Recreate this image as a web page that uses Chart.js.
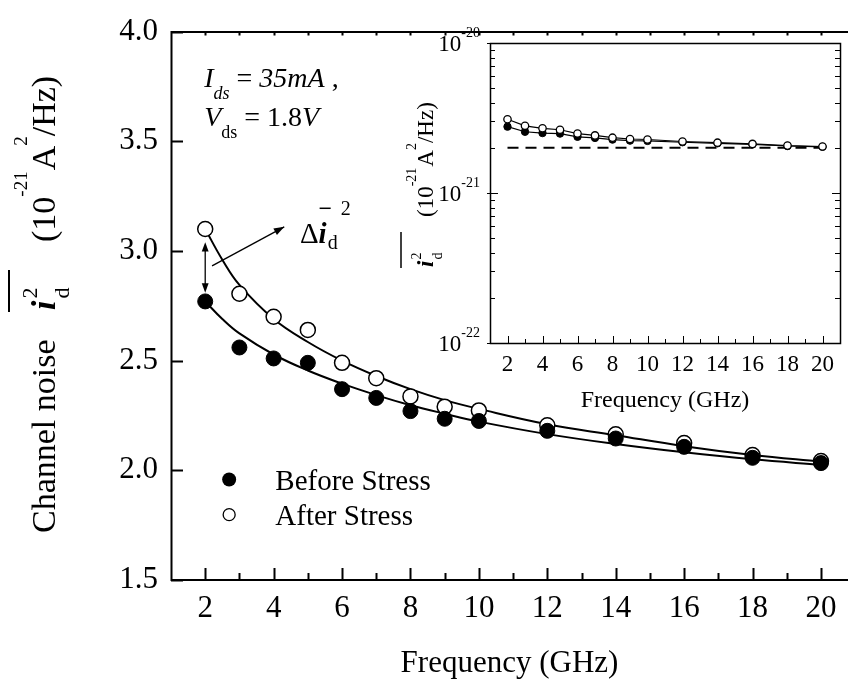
<!DOCTYPE html>
<html>
<head>
<meta charset="utf-8">
<script src="https://cdn.jsdelivr.net/npm/chart.js@4.4.1/dist/chart.umd.min.js"></script>
<style>
    html, body { margin: 0; padding: 0; background: #fff; }
    #wrap { position: relative; width: 857px; height: 686px; }
    #mainChart { position: absolute; left: 0; top: 0; }
    #insetChart { position: absolute; left: 400px; top: 20px; }
</style>
</head>
<body>
<div id="wrap">
    <canvas id="mainChart" width="857" height="686"></canvas>
    <canvas id="insetChart" width="457" height="400"></canvas>
</div>
<script>
// Measured points (10^-21 A^2/Hz)
const freqs = [2, 3, 4, 5, 6, 7, 8, 9, 10, 12, 14, 16, 18, 20];
const beforeStress = [2.77, 2.56, 2.51, 2.49, 2.37, 2.33, 2.27, 2.235, 2.225, 2.18, 2.145, 2.107, 2.057, 2.033];
const afterStress = [3.10, 2.805, 2.70, 2.64, 2.49, 2.42, 2.337, 2.29, 2.273, 2.205, 2.164, 2.124, 2.07, 2.042];

// Fitted curves
const fitFreqs = [2, 2.5, 3, 4, 5, 6, 7, 8, 9, 10, 12, 14, 16, 18, 20];
const beforeFit = [2.77, 2.69, 2.624, 2.528, 2.455, 2.395, 2.343, 2.297, 2.258, 2.222, 2.165, 2.12, 2.082, 2.05, 2.025];
const afterFit = [3.10, 2.96, 2.845, 2.69, 2.585, 2.50, 2.43, 2.37, 2.32, 2.28, 2.21, 2.16, 2.11, 2.07, 2.04];

// Axes
const xTicks = [2, 4, 6, 8, 10, 12, 14, 16, 18, 20];
const yTicks = [1.5, 2.0, 2.5, 3.0, 3.5, 4.0];
const insetExponents = [-22, -21, -20];

// Inset dashed level (10^-21 A^2/Hz)
const floorFreqs = [2, 20.3];
const floorLevel = [2.0, 2.0];

const SERIF = '"Liberation Serif", "Times New Roman", serif';
Chart.defaults.font.family = SERIF;
Chart.defaults.color = '#000';

const pts = (xs, ys, k = 1) => xs.map((x, i) => ({ x: x, y: ys[i] * k }));

// Draws a row of text pieces, returns end x
function rich(ctx, x, y, parts) {
    let cx = x;
    parts.forEach(p => {
        ctx.font = p.font;
        cx += p.gap || 0;
        ctx.fillText(p.t, cx, y + (p.dy || 0));
        if (!p.stack) cx += ctx.measureText(p.t).width;
    });
    return cx;
}

function arrowHead(ctx, x0, y0, x1, y1, size) {
    const a = Math.atan2(y1 - y0, x1 - x0);
    ctx.beginPath();
    ctx.moveTo(x1, y1);
    ctx.lineTo(x1 - size * Math.cos(a - 0.35), y1 - size * Math.sin(a - 0.35));
    ctx.lineTo(x1 - size * Math.cos(a + 0.35), y1 - size * Math.sin(a + 0.35));
    ctx.closePath();
    ctx.fill();
}

const mainDecor = {
    id: 'mainDecor',
    afterDraw(chart) {
        const { ctx, chartArea: ca, scales: { x, y } } = chart;
        ctx.save();
        ctx.strokeStyle = '#000';
        ctx.fillStyle = '#000';
        ctx.lineWidth = 2;

        // frame (right side is cropped off)
        ctx.beginPath();
        ctx.moveTo(ca.right, ca.top + 0.5);
        ctx.lineTo(ca.left + 0.5, ca.top + 0.5);
        ctx.lineTo(ca.left + 0.5, ca.bottom);
        ctx.lineTo(ca.right, ca.bottom);
        ctx.stroke();

        // ticks
        ctx.beginPath();
        for (let f = 2; f <= 20; f++) {
            const px = Math.round(x.getPixelForValue(f)) + 0.5;
            const len = f % 2 === 0 ? 12 : 7;
            ctx.moveTo(px, ca.bottom);
            ctx.lineTo(px, ca.bottom - len);
            ctx.moveTo(px, ca.top);
            ctx.lineTo(px, ca.top + 4);
        }
        yTicks.forEach(v => {
            const py = Math.round(y.getPixelForValue(v)) + 0.5;
            ctx.moveTo(ca.left, py);
            ctx.lineTo(ca.left + 12, py);
        });
        ctx.stroke();

        ctx.textAlign = 'left';
        ctx.textBaseline = 'alphabetic';

        // condition text
        const tx = x.getPixelForValue(1.97);
        const ty1 = y.getPixelForValue(3.746);
        const ty2 = y.getPixelForValue(3.569);
        rich(ctx, tx, ty1, [
            { t: 'I', font: 'italic 28px ' + SERIF },
            { t: 'ds', font: 'italic 18px ' + SERIF, dy: 12 },
            { t: ' = ', font: '28px ' + SERIF },
            { t: '35mA', font: 'italic 28px ' + SERIF },
            { t: ' ,', font: '28px ' + SERIF }
        ]);
        rich(ctx, tx, ty2, [
            { t: 'V', font: 'italic 28px ' + SERIF },
            { t: 'ds', font: '18px ' + SERIF, dy: 12 },
            { t: ' = 1.8', font: '28px ' + SERIF },
            { t: 'V', font: 'italic 28px ' + SERIF }
        ]);

        // delta label
        const dx = x.getPixelForValue(4.77);
        const dy = y.getPixelForValue(3.035);
        ctx.font = '29px ' + SERIF;
        const dW = ctx.measureText('\u0394').width;
        ctx.fillText('\u0394', dx, dy);
        ctx.font = 'bold italic 29px ' + SERIF;
        const iW = ctx.measureText('i').width;
        ctx.fillText('i', dx + dW, dy);
        ctx.font = '20px ' + SERIF;
        ctx.fillText('d', dx + dW + iW + 1, dy + 6);
        ctx.fillText('2', dx + dW + iW + 14, dy - 28);
        ctx.lineWidth = 1.5;
        ctx.beginPath();
        ctx.moveTo(dx + dW + 1, dy - 35);
        ctx.lineTo(dx + dW + iW + 4, dy - 35);
        ctx.stroke();

        // arrows
        ctx.lineWidth = 1.3;
        const a0x = x.getPixelForValue(2.2), a0y = y.getPixelForValue(2.932);
        const a1x = x.getPixelForValue(4.31), a1y = y.getPixelForValue(3.11);
        ctx.beginPath();
        ctx.moveTo(a0x, a0y);
        ctx.lineTo(a1x, a1y);
        ctx.stroke();
        arrowHead(ctx, a0x, a0y, a1x, a1y, 11);
        const vx = x.getPixelForValue(2.0);
        const v0 = y.getPixelForValue(afterStress[0] - 0.06);
        const v1 = y.getPixelForValue(beforeStress[0] + 0.04);
        ctx.beginPath();
        ctx.moveTo(vx, v0 + 6);
        ctx.lineTo(vx, v1 - 6);
        ctx.stroke();
        arrowHead(ctx, vx, v1, vx, v0, 10);
        arrowHead(ctx, vx, v0, vx, v1, 10);

        // legend
        const lx = x.getPixelForValue(2.7);
        const lt = x.getPixelForValue(4.05);
        const l1 = y.getPixelForValue(1.958);
        const l2 = y.getPixelForValue(1.798);
        ctx.lineWidth = 1.3;
        ctx.beginPath();
        ctx.arc(lx, l1, 7, 0, Math.PI * 2);
        ctx.fill();
        ctx.fillStyle = '#fff';
        ctx.beginPath();
        ctx.arc(lx, l2, 6, 0, Math.PI * 2);
        ctx.fill();
        ctx.stroke();
        ctx.fillStyle = '#000';
        ctx.font = '29px ' + SERIF;
        ctx.fillText('Before Stress', lt, l1 + 10);
        ctx.fillText('After Stress', lt, l2 + 10);

        // x title
        ctx.textAlign = 'center';
        ctx.font = '31px ' + SERIF;
        ctx.fillText('Frequency (GHz)', (ca.left + ca.right) / 2, 672);

        // y title (rotated)
        ctx.textAlign = 'left';
        ctx.translate(55, 533);
        ctx.rotate(-Math.PI / 2);
        ctx.font = '34px ' + SERIF;
        ctx.fillText('Channel noise', 0, 0);
        ctx.font = 'bold italic 34px ' + SERIF;
        ctx.fillText('i', 223, 0);
        const iw = ctx.measureText('i').width;
        ctx.font = '22px ' + SERIF;
        ctx.fillText('d', 223 + iw + 2, 14);
        ctx.fillText('2', 223 + iw + 2, -18);
        ctx.lineWidth = 2;
        ctx.beginPath();
        ctx.moveTo(221, -46);
        ctx.lineTo(263, -46);
        ctx.stroke();
        rich(ctx, 291, 0, [
            { t: '(10', font: '34px ' + SERIF },
            { t: '-21', font: '19px ' + SERIF, dy: -28 },
            { t: 'A', font: '34px ' + SERIF, gap: 1 },
            { t: '2', font: '19px ' + SERIF, dy: -28 },
            { t: '/Hz)', font: '34px ' + SERIF }
        ]);
        ctx.restore();
    }
};

new Chart(document.getElementById('mainChart'), {
    type: 'scatter',
    data: {
        datasets: [
            {
                label: 'Before Stress',
                data: pts(freqs, beforeStress),
                pointRadius: 7.5,
                pointBackgroundColor: '#000',
                pointBorderColor: '#000',
                pointBorderWidth: 1,
                order: 0
            },
            {
                label: 'After Stress',
                data: pts(freqs, afterStress),
                pointRadius: 7.5,
                pointBackgroundColor: '#fff',
                pointBorderColor: '#000',
                pointBorderWidth: 1.5,
                order: 0
            },
            {
                type: 'line',
                label: 'Before fit',
                data: pts(fitFreqs, beforeFit),
                borderColor: '#000',
                borderWidth: 2,
                pointRadius: 0,
                tension: 0.4,
                fill: false,
                order: 1
            },
            {
                type: 'line',
                label: 'After fit',
                data: pts(fitFreqs, afterFit),
                borderColor: '#000',
                borderWidth: 2,
                pointRadius: 0,
                tension: 0.4,
                fill: false,
                order: 1
            }
        ]
    },
    options: {
        responsive: false,
        animation: false,
        events: [],
        layout: { padding: { top: 18, right: 0, bottom: 0, left: 0 } },
        plugins: { legend: { display: false }, tooltip: { enabled: false } },
        scales: {
            x: {
                type: 'linear',
                min: 1,
                max: 20.79,
                afterBuildTicks: s => { s.ticks = xTicks.map(v => ({ value: v })); },
                afterFit: s => { s.height = 106; },
                grid: { display: false, drawTicks: false },
                border: { display: false },
                ticks: { font: { size: 31 }, padding: 10, maxRotation: 0, autoSkip: false, callback: v => String(v) }
            },
            y: {
                min: 1.5,
                max: 4.0,
                afterBuildTicks: s => { s.ticks = yTicks.map(v => ({ value: v })); },
                afterFit: s => { s.width = 171; },
                grid: { display: false, drawTicks: false },
                border: { display: false },
                ticks: { font: { size: 31 }, padding: 13, callback: v => v.toFixed(1) }
            }
        }
    },
    plugins: [mainDecor]
});

// Inset
const insetDecor = {
    id: 'insetDecor',
    afterDraw(chart) {
        const { ctx, chartArea: ca, scales: { x, y } } = chart;
        ctx.save();
        ctx.strokeStyle = '#000';
        ctx.fillStyle = '#000';
        ctx.lineWidth = 1.5;
        ctx.strokeRect(ca.left + 0.5, ca.top + 0.5, ca.right - ca.left, ca.bottom - ca.top);

        ctx.lineWidth = 1;
        ctx.beginPath();
        for (let f = 2; f <= 20; f++) {
            const px = Math.round(x.getPixelForValue(f)) + 0.5;
            const len = f % 2 === 0 ? 7 : 4;
            ctx.moveTo(px, ca.bottom);
            ctx.lineTo(px, ca.bottom - len);
        }
        insetExponents.forEach((e, k) => {
            const py = Math.round(y.getPixelForValue(Math.pow(10, e))) + 0.5;
            ctx.moveTo(ca.left - 3, py); ctx.lineTo(ca.left + 8, py);
            ctx.moveTo(ca.right, py); ctx.lineTo(ca.right - 8, py);
            if (k < insetExponents.length - 1) {
                for (let m = 2; m <= 9; m++) {
                    const my = Math.round(y.getPixelForValue(m * Math.pow(10, e))) + 0.5;
                    ctx.moveTo(ca.left, my); ctx.lineTo(ca.left + 5, my);
                    ctx.moveTo(ca.right, my); ctx.lineTo(ca.right - 5, my);
                }
            }
        });
        ctx.stroke();

        // y tick labels 10^e
        ctx.textBaseline = 'alphabetic';
        ctx.textAlign = 'left';
        insetExponents.forEach(e => {
            const py = y.getPixelForValue(Math.pow(10, e));
            ctx.font = '14px ' + SERIF;
            const sw = ctx.measureText(String(e)).width;
            ctx.font = '23px ' + SERIF;
            const bw = ctx.measureText('10').width;
            const right = ca.left - 10;
            ctx.fillText('10', right - sw - bw, py + 8);
            ctx.font = '14px ' + SERIF;
            ctx.fillText(String(e), right - sw, py - 6);
        });

        // x title
        ctx.textAlign = 'center';
        ctx.font = '24px ' + SERIF;
        ctx.fillText('Frequency (GHz)', (ca.left + ca.right) / 2, 387);

        // y title
        ctx.textAlign = 'left';
        ctx.translate(33, 247);
        ctx.rotate(-Math.PI / 2);
        ctx.font = 'bold italic 23px ' + SERIF;
        ctx.fillText('i', 0, 0);
        const iw = ctx.measureText('i').width;
        ctx.font = '14px ' + SERIF;
        ctx.fillText('d', iw + 1, 9);
        ctx.fillText('2', iw + 1, -12);
        ctx.lineWidth = 1.5;
        ctx.beginPath();
        ctx.moveTo(-1, -32);
        ctx.lineTo(35, -32);
        ctx.stroke();
        rich(ctx, 50, 0, [
            { t: '(10', font: '23px ' + SERIF },
            { t: '-21', font: '14px ' + SERIF, dy: -17 },
            { t: 'A', font: '23px ' + SERIF, gap: 1 },
            { t: '2', font: '14px ' + SERIF, dy: -17 },
            { t: '/Hz)', font: '23px ' + SERIF }
        ]);
        ctx.restore();
    }
};

new Chart(document.getElementById('insetChart'), {
    type: 'scatter',
    data: {
        datasets: [
            {
                type: 'line',
                label: 'Before Stress',
                data: pts(freqs, beforeStress, 1e-21),
                borderColor: '#000',
                borderWidth: 1.2,
                tension: 0,
                pointRadius: 3.7,
                pointBackgroundColor: '#000',
                pointBorderColor: '#000',
                pointBorderWidth: 1,
                fill: false,
                order: 1
            },
            {
                type: 'line',
                label: 'After Stress',
                data: pts(freqs, afterStress, 1e-21),
                borderColor: '#000',
                borderWidth: 1.2,
                tension: 0,
                pointRadius: 3.7,
                pointBackgroundColor: '#fff',
                pointBorderColor: '#000',
                pointBorderWidth: 1.3,
                fill: false,
                order: 0
            },
            {
                type: 'line',
                label: 'Floor',
                data: pts(floorFreqs, floorLevel, 1e-21),
                borderColor: '#000',
                borderWidth: 2,
                borderDash: [11, 7],
                pointRadius: 0,
                fill: false,
                order: 2
            }
        ]
    },
    options: {
        responsive: false,
        animation: false,
        events: [],
        layout: { padding: { top: 23, right: 17, bottom: 0, left: 0 } },
        plugins: { legend: { display: false }, tooltip: { enabled: false } },
        scales: {
            x: {
                type: 'linear',
                min: 1,
                max: 21,
                afterBuildTicks: s => { s.ticks = xTicks.map(v => ({ value: v })); },
                afterFit: s => { s.height = 77; },
                grid: { display: false, drawTicks: false },
                border: { display: false },
                ticks: { font: { size: 23 }, padding: 8, maxRotation: 0, autoSkip: false, callback: v => String(v) }
            },
            y: {
                type: 'logarithmic',
                min: 1e-22,
                max: 1e-20,
                afterFit: s => { s.width = 90; },
                grid: { display: false, drawTicks: false },
                border: { display: false },
                ticks: { display: false }
            }
        }
    },
    plugins: [insetDecor]
});
</script>
</body>
</html>
